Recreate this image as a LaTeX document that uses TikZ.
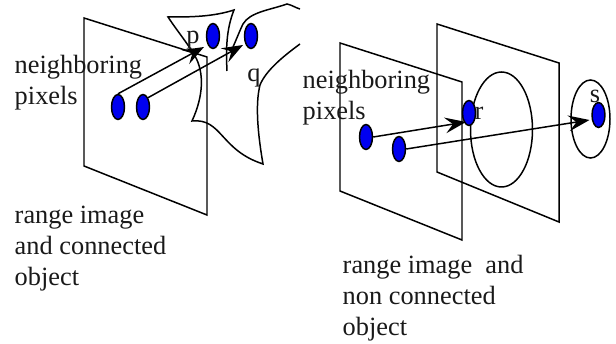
\documentclass[tikz,border=0pt]{standalone}
\usepackage{fontspec}
\setmainfont{Liberation Serif}
\usepackage{xcolor}
\usetikzlibrary{arrows.meta,shapes.geometric}
\definecolor{pxb}{RGB}{0,0,240}

\begin{document}
\begin{tikzpicture}[x=0.02cm,y=-0.02cm,>={Stealth[length=12pt,width=9pt,inset=4.5pt]},line width=0.85pt,
  every node/.style={font=\fontsize{15}{17.6}\selectfont,text=black!90,inner sep=0pt},
  pixel/.style={draw,fill=pxb,ellipse,minimum width=13*0.568pt,minimum height=25*0.568pt},
  lbl/.style={align=left,anchor=west}]
  \useasboundingbox (0,0) rectangle (616,344);
  % planes
  \draw (84,18) -- (207,57) -- (207,215) -- (84,166) -- cycle;
  \draw (340,43) -- (462,82) -- (462,240) -- (340,191) -- cycle;
  \draw (437,24) -- (559,63) -- (559,222) -- (437,172) -- cycle;
  % surfaces
  \draw (227,71) .. controls (226,50) and (226,30) .. (234,10) .. controls (212,17) and (190,17) .. (168,17)
    .. controls (178,32) and (188,44) .. (195,56) .. controls (204,72) and (204,95) .. (192,121)
    .. controls (222,118) and (220,150) .. (263,164) .. controls (258,135) and (255,105) .. (260,85)
    .. controls (266,70) and (285,55) .. (300,44);
  \draw (300,9) .. controls (296,8) and (292,5) .. (287,4) .. controls (270,10) and (250,12) .. (243,24)
    .. controls (240,30) and (237,38) .. (233,47);
  % objects
  \draw (501.5,129.5) ellipse (31 and 57.5);
  \draw (590.5,119) ellipse (19.5 and 39);
  % pixels
  \node[pixel] (pa) at (118,107) {};
  \node[pixel] (pb) at (143,107) {};
  \node[pixel] (p) at (213,36) {};
  \node[pixel] (q) at (251,36) {};
  \node[pixel] (pc) at (366,137) {};
  \node[pixel] (pd) at (399,149) {};
  \node[pixel] (r) at (469,113) {};
  \node[pixel] (s) at (598.5,115) {};
  \draw[->] (pa.north) -- ([shift={(-9,11)}]p.center);
  \draw[->] (pb.north east) -- ([shift={(-8,9)}]q.center);
  \draw[->] (pc.east) -- ([shift={(-3,9)}]r.center);
  \draw[->] (pd.east) -- ([shift={(-9,5)}]s.center);
  % labels
  \node[lbl] (nl) at (14,83) {neighboring\\pixels};
  \node[lbl] (nr) at (302,98) {neighboring\\pixels};
  \node[lbl] (cl) at (14,249) {range image\\and connected\\object};
  \node[lbl] (cr) at (342,298) {range image~~and\\non connected\\object};
  \node (lp) at (193,40) {p};
  \node (lq) at (254,78) {q};
  \node (lr) at (479,113) {r};
  \node (ls) at (595,96) {s};
\end{tikzpicture}
\end{document}
